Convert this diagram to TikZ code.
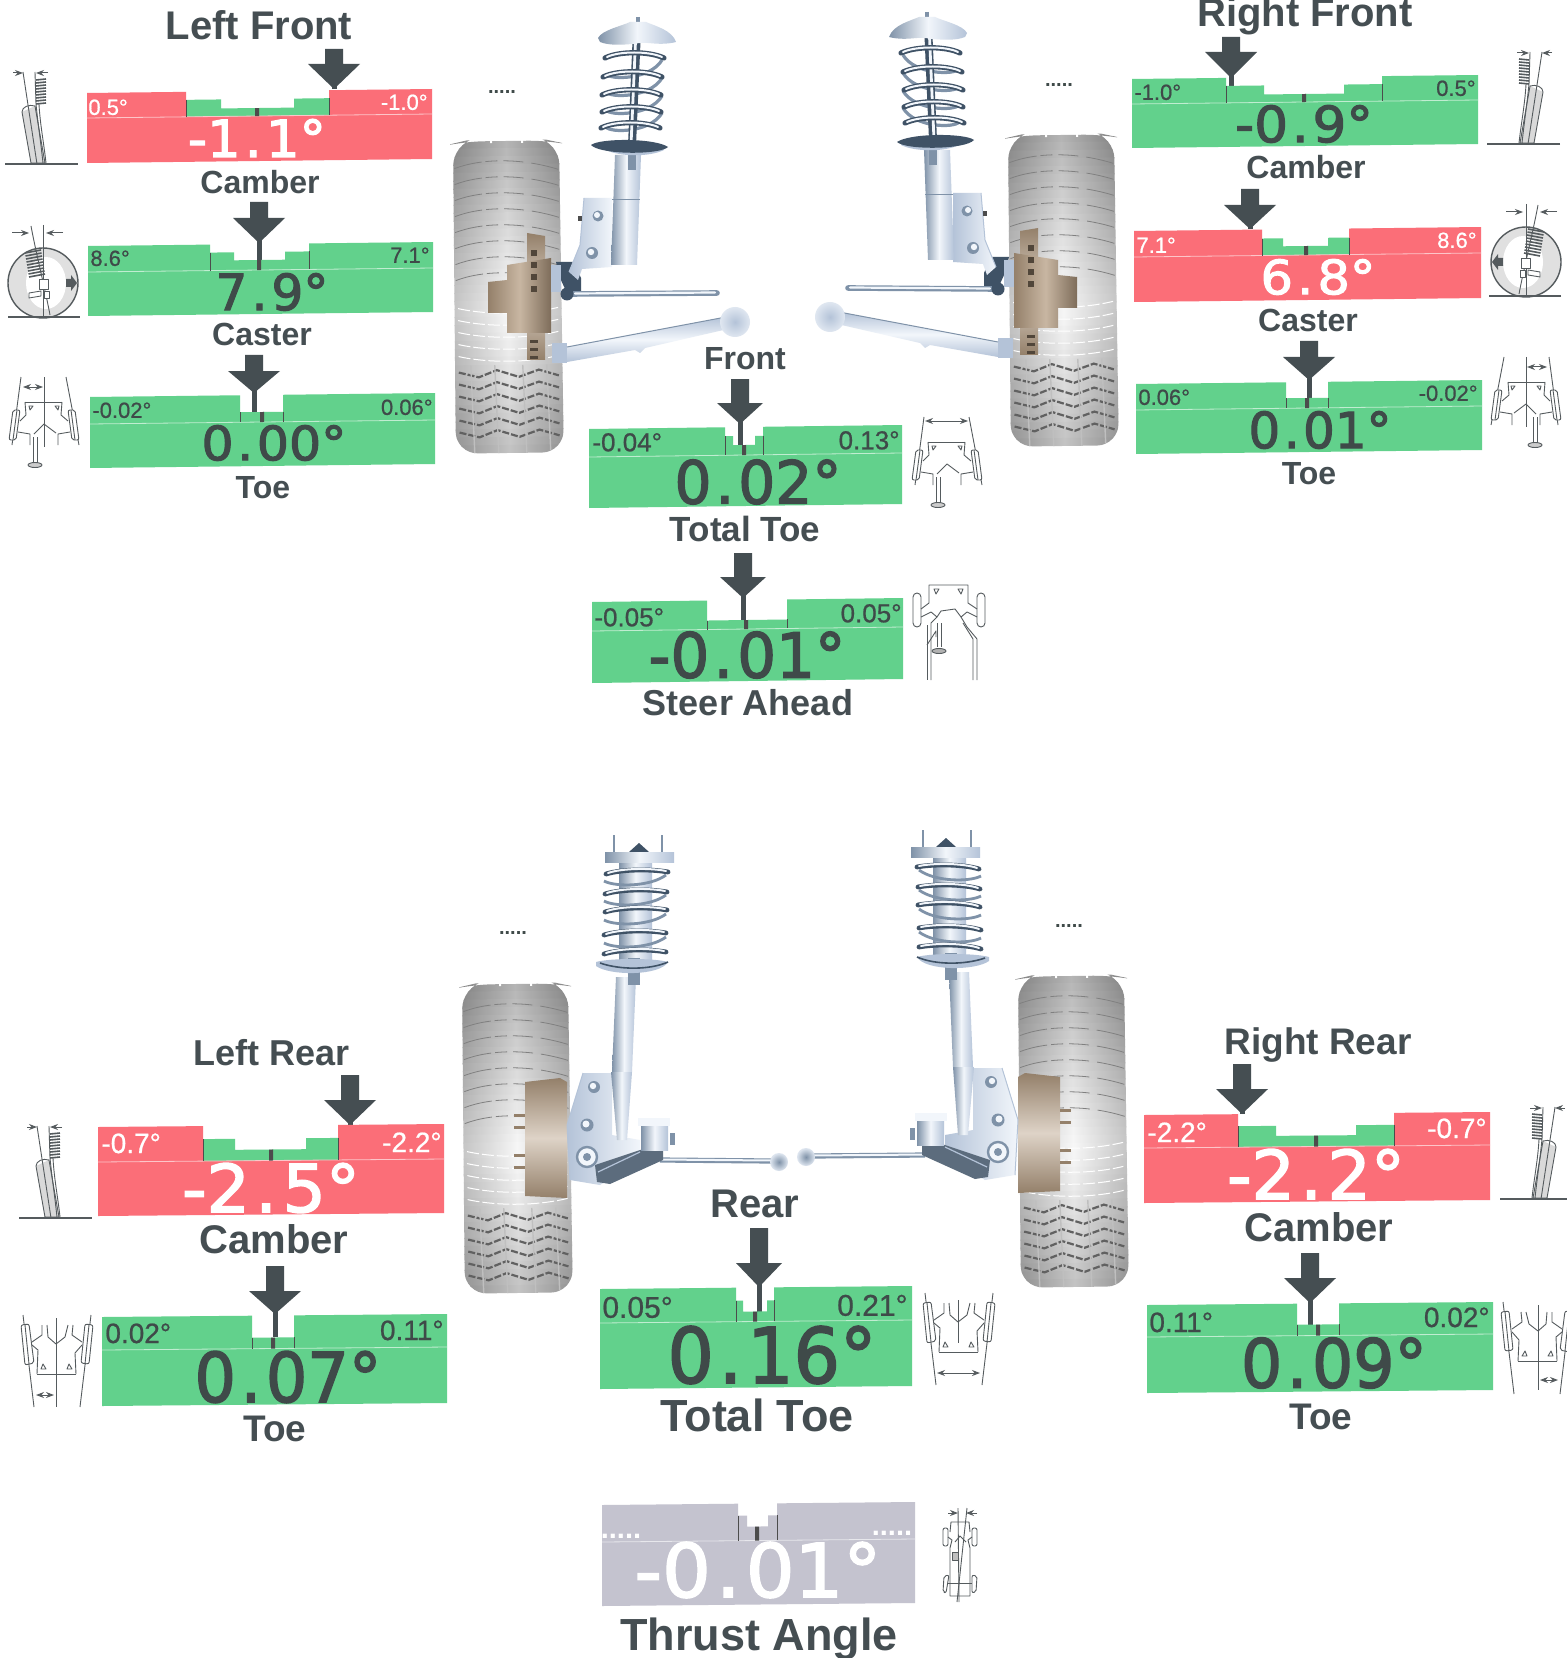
\documentclass[tikz,border=0pt]{standalone}
\usepackage{fontspec}
\usepackage{graphicx}
\usetikzlibrary{arrows.meta}
\setmainfont{Liberation Sans}
\newfontfamily\valfont[FakeBold=2.2]{DejaVu Sans}
\newfontfamily\limfont[FakeBold=.7]{Liberation Sans}
\definecolor{gbody}{HTML}{62D18C}
\definecolor{rbody}{HTML}{FB6E78}
\definecolor{ybody}{HTML}{C4C3CF}
\definecolor{ink}{HTML}{454E52}
\definecolor{valink}{HTML}{3F4A49}
\definecolor{tanA}{HTML}{94806A}
\definecolor{tanB}{HTML}{C8B6A2}
\definecolor{steelA}{HTML}{7F92A8}
\definecolor{steelB}{HTML}{F2F6FB}
\definecolor{steelC}{HTML}{B4C3D8}
\definecolor{steelD}{HTML}{3F5266}
\definecolor{icon}{HTML}{555B5E}
\tikzset{
  lab/.style={inner sep=0pt,text=ink},
  metal/.style={left color=steelA,right color=steelC,middle color=steelB},
  tanh/.style={left color=tanA,right color=tanA!85!black,middle color=tanB},
  tanv/.style={top color=tanA,bottom color=tanA,middle color=tanB!60!white},
  icn/.style={draw=icon,line width=.45pt,line join=round},
  dimarrow/.style={icon,line width=.5pt,-{Stealth[length=4pt,width=3pt]}},
  dbl/.style={icon,line width=.5pt,{Stealth[length=4pt,width=3pt]}-{Stealth[length=4pt,width=3pt]}},
}
% ---------- text ----------
\newcommand\lab[5]{\pgfmathsetmacro\fpt{#4/2}\pgfmathsetmacro\by{#3+.358*#4}%
  \node[lab,anchor=base] (#1) at (#2,\by) {\fontsize{\fpt}{\fpt}\selectfont\bfseries #5};}
\newcommand\lmt[7]{\pgfmathsetmacro\fpt{#4/2}\pgfmathsetmacro\by{#3+.358*#4}%
  \node[lab,anchor=#5,text=#6] (#1) at (#2,\by) {\limfont\fontsize{\fpt}{\fpt}\selectfont #7};}
\newcommand\valn[7]{\node[inner sep=0pt,text=#6] (#1) at (#2,#3) {\resizebox{\dimexpr 0.5pt*#4\relax}{\dimexpr 0.5pt*#5\relax}{\valfont #7}};}
\newcommand\dotsnode[5]{\node[lab,anchor=base,text=#4] (#1) at (#2,#3) {\fontsize{10}{10}\selectfont\bfseries #5};}
% ---------- gauge ----------
\def\gaugeA#1#2#3#4#5#6#7#8#9{\def\gX{#1}\def\gY{#2}\def\gW{#3}\def\gH{#4}\def\gT{#5}\def\gL{#6}\def\gA{#7}\def\gB{#8}\def\gS{#9}\gaugeB}
\def\gaugeB#1#2#3#4#5{% a f C body step
  \pgfmathsetmacro\gt{\gT/\gW}%
  \pgfmathsetmacro\gAa{\gA+#1}\pgfmathsetmacro\gBa{\gB-#1}%
  \begin{scope}[cm={1,\gt,0,1,(\gX,\gY)}]
    \fill[#4] (0,0) -- (\gA,0) -- (\gA,\gL) -- (\gB,\gL) -- (\gB,0) -- (\gW,0) -- (\gW,\gH) -- (0,\gH) -- cycle;
    \fill[#5] (\gA,\gL) -- (\gA,\gS) -- (\gAa,\gS) -- (\gAa,#2) -- (\gBa,#2) -- (\gBa,\gS) -- (\gB,\gS) -- (\gB,\gL) -- cycle;
    \draw[#4!40!white,line width=.4pt] (0,\gL) -- (\gW,\gL);
    \draw[black!70,line width=.5pt] (\gA,\gS) -- (\gA,\gL) (\gB,\gS) -- (\gB,\gL);
    \fill[black!70] (#3-2,#2) rectangle (#3+2,\gL);
  \end{scope}}
% ---------- pointer ----------
\newcommand\ptr[6]{% cx top head tip stemend hw
  \pgfmathsetmacro\xa{#1-#6}\pgfmathsetmacro\xb{#1+#6}%
  \pgfmathsetmacro\sa{#1-9}\pgfmathsetmacro\sb{#1+9}%
  \fill[ink] (\sa,#2) -- (\sb,#2) -- (\sb,#3) -- (\xb,#3) -- (#1,#4) -- (\xa,#3) -- (\sa,#3) -- cycle;
  \pgfmathsetmacro\ta{#1-2.5}\pgfmathsetmacro\tb{#1+2.5}\pgfmathsetmacro\tc{#4-10}%
  \fill[ink] (\ta,\tc) rectangle (\tb,#5);}
% ---------- icons ----------
\newcommand\camberIcon{%
  \fill[black!15] (17,-52) -- (30,-58) -- (40,-1) -- (26,-1) -- cycle;
  \draw[icn] (17,-52) .. controls (17,-57) and (24,-60) .. (30,-58) -- (40,-1) -- (26,-1) -- cycle;
  \draw[icn] (18,-92) -- (32,0);
  \draw[icn] (30,-92) -- (31,-60) .. controls (33,-40) and (36,-20) .. (38,-1);
  \draw[icn] (34,-60) .. controls (35,-40) and (39,-20) .. (41,-1);
  \foreach \yy in {-84,-81,...,-60}{\draw[icn,line width=.8pt] (31,\yy) -- (41,\yy-1);}
  \draw[icn,line width=.7pt] (0,0) -- (73,0);
  \draw[dimarrow] (8,-91) -- (18,-91);
  \draw[dimarrow] (43,-91) -- (31,-91);}
\newcommand\casterIcon{%
  \draw[icn,fill=black!12,line width=.7pt] (0,0) circle (35);
  \fill[white] (3,0) ellipse (20 and 26);
  \draw[icn] (0,-58) -- (0,34);
  \draw[icn] (-12,-57) .. controls (-7,-30) and (3,10) .. (7,32);
  \foreach \yy in {-30,-27,...,-6}{\draw[icn,line width=.8pt] (-13+\yy/6,\yy) -- (3+\yy/6,\yy-3);}
  \draw[icn,fill=white] (-4,-4) rectangle (5,6);
  \draw[icn,fill=white] (-14,10) -- (-2,8) -- (-2,13) -- (-14,15) -- cycle;
  \draw[icn,fill=white] (1,8) rectangle (6,15);
  \fill[icon] (23,-4) -- (28,-4) -- (28,-8) -- (34,0) -- (28,8) -- (28,4) -- (23,4) -- cycle;
  \draw[icn,line width=.7pt] (-35,34) -- (37,34);
  \draw[dimarrow] (-31,-50) -- (-14,-50);
  \draw[dimarrow] (20,-50) -- (3,-50);}
\newcommand\wheelrect[4]{\draw[icn,fill=white,rounded corners=1pt] (#1) -- (#2) -- (#3) -- (#4) -- cycle;}
\newcommand\toeFront{%
  \draw[icn] (-23,0) -- (-32,68);
  \draw[icn] (22,0) -- (35,68);
  \wheelrect{-31,33}{-24,33}{-28,63}{-35,63}
  \draw[icn] (-27,33) -- (-31,63);
  \wheelrect{24,33}{31,33}{35,63}{28,63}
  \draw[icn] (27,33) -- (31,63);
  \draw[icn] (-19,25) -- (18,25);
  \draw[icn] (-19,25) -- (-18,38) -- (-24,44);
  \draw[icn] (18,25) -- (17,38) -- (24,44);
  \draw[icn] (-15,29) -- (-11,29) -- (-14,33) -- cycle;
  \draw[icn] (15,29) -- (11,29) -- (14,33) -- cycle;
  \draw[icn] (-26,55) -- (-14,57) -- (-14,68);
  \draw[icn] (26,55) -- (14,57) -- (14,68);
  \draw[icn] (-10,57) -- (0,47) -- (12,56);
  \draw[icn] (-11,60) -- (-11,82) (-7,60) -- (-7,82);
  \draw[icn,fill=black!20] (-9,88) ellipse (7 and 2.5);
  \draw[icn] (-11,82) -- (-11,86) (-7,82) -- (-7,86);}
\newcommand\toeRear{%
  \draw[icn] (-33,0) -- (-22,92);
  \draw[icn] (35,0) -- (24,92);
  \wheelrect{-35,10}{-27,9}{-22,48}{-31,50}
  \draw[icn] (-31,10) -- (-27,49);
  \wheelrect{29,9}{37,10}{33,49}{25,48}
  \draw[icn] (33,10) -- (29,49);
  \draw[icn] (-19,59) -- (20,59);
  \draw[icn] (-19,59) -- (-18,35) -- (-24,30);
  \draw[icn] (20,59) -- (19,38) -- (26,30);
  \draw[icn] (-13,49) -- (-10,54) -- (-15,54) -- cycle;
  \draw[icn] (13,49) -- (16,54) -- (11,54) -- cycle;
  \draw[icn] (-14,10) -- (-14,20) -- (-24,27);
  \draw[icn] (-9,10) -- (-8,22) -- (0,29) -- (9,22) -- (12,10);
  \draw[icn] (17,10) -- (16,20) -- (26,27);}
\newcommand\steerIcon{%
  \draw[icn,rounded corners=2pt] (-36,8) rectangle (-28,42);
  \draw[icn,rounded corners=2pt] (28,8) rectangle (36,42);
  \draw[icn] (-20,18) -- (-20,0) -- (19,0) -- (19,18) -- (28,24);
  \draw[icn] (-20,18) -- (-28,24);
  \draw[icn] (-28,32) -- (-18,27) -- (-12,32) -- (-18,38) -- (-18,95);
  \draw[icn] (28,32) -- (18,27) -- (12,32) -- (18,42) -- (28,54) -- (28,95);
  \draw[icn] (14,38) -- (24,54) -- (24,95);
  \draw[icn] (-12,32) -- (-8,26) -- (6,24) -- (12,32);
  \draw[icn] (-22,40) -- (-22,95);
  \draw[icn] (-15,4) -- (-10,4) -- (-13,9) -- cycle;
  \draw[icn] (14,4) -- (9,4) -- (12,9) -- cycle;
  \draw[icn] (-22,60) -- (-13,46) -- (-13,52);
  \draw[icn] (-12,38) -- (-12,62) (-8,38) -- (-8,62);
  \draw[icn,fill=black!30] (-10,66) ellipse (7 and 2.5);}
\newcommand\thrustIcon{%
  \draw[icn] (958,1508) -- (959,1602);
  \draw[icn] (967,1508) -- (957,1602);
  \draw[dimarrow] (948,1513) -- (958,1513);
  \draw[dimarrow] (977,1513) -- (966,1513);
  \draw[icn,rounded corners=1pt] (943,1528) rectangle (948,1546);
  \draw[icn,rounded corners=1pt] (972,1528) rectangle (977,1546);
  \draw[icn,rounded corners=1pt] (944,1576) -- (949,1575) -- (946,1593) -- (943,1592) -- cycle;
  \draw[icn,rounded corners=1pt] (972,1575) -- (977,1576) -- (976,1592) -- (972,1593) -- cycle;
  \draw[icn] (950,1532) -- (951,1522) -- (969,1522) -- (970,1532);
  \draw[icn] (948,1537) -- (952,1540) -- (950,1548) -- (950,1596) -- (970,1596) -- (970,1548) -- (968,1540) -- (972,1537);
  \draw[icn] (948,1583) -- (972,1583);
  \draw[icn] (955,1542) -- (960,1536) -- (966,1542);
  \draw[icn,fill=black!25] (952,1552) rectangle (958,1560);}
% ---------- tyre ----------
\newcommand\tyre[3]{%
  \begin{scope}[shift={(#1,#2)},rotate=.7]
    \begin{scope}
      \clip[rounded corners=11pt] (-53,3) -- (-44,1) -- (44,1) -- (53,3) -- (54,#3) -- (-54,#3) -- cycle;
      \foreach \i in {0,...,38}{%
        \pgfmathsetmacro\tt{\i/38}%
        \pgfmathsetmacro\cc{3+26*abs((\tt-.55)/.55)^1.2}%
        \pgfmathsetmacro\ee{min(\cc+20,50)}%
        \pgfmathsetmacro\ya{\i*#3/39}%
        \pgfmathsetmacro\yb{\ya+#3/39+1}%
        \shade[left color=black!\ee,right color=black!\ee,middle color=black!\cc] (-56,\ya) rectangle (56,\yb);}
      \foreach \yy in {22,38,...,134}{%
        \draw[black!50,line width=.4pt,dash pattern=on 14pt off 2pt on 6pt off 3pt on 10pt off 4pt] (-52,\yy+6) .. controls (-25,\yy-4) and (15,\yy-4) .. (52,\yy+8);}
      \foreach \yy in {168,180,...,220}{%
        \draw[white,line width=.5pt,dash pattern=on 6pt off 1.5pt] (-50,\yy) .. controls (-20,\yy+7) and (20,\yy+7) .. (50,\yy);}
      \foreach \yy in {232,244,...,296}{%
        \draw[black!62,line width=1.1pt,dash pattern=on 3.5pt off 1pt] (-50,\yy) -- (-30,\yy+5) -- (-12,\yy-2) -- (10,\yy+5) -- (30,\yy-2) -- (50,\yy+4);}
      \foreach \xx in {-38,-14,14,38}{\draw[white!75!black,line width=.7pt] (\xx,225) -- (\xx+3,#3);}
    \end{scope}
    \fill[white] (-16,0) rectangle (-14,3) (15,0) rectangle (17,3);
  \end{scope}}
% ---------- front assembly (left form) ----------
\newcommand\frontAssy{%
  % disc and hub
  \shade[tanv] (527,233) -- (545,236) -- (545,360) -- (527,360) -- cycle;
  \shade[tanh] (551,258) -- (507,265) -- (507,280) -- (488,282) -- (488,313) -- (507,313) -- (507,333) -- (551,333) -- cycle;
  \foreach \yy in {250,262,...,286}{\fill[tanA!55!black] (531,\yy) rectangle (537,\yy+6);}
  \foreach \yy in {340,348,356}{\fill[tanA!55!black] (530,\yy) rectangle (538,\yy+3);}
  % lower arm
  \fill[steelC] (552,343) rectangle (567,363);
  \shade[top color=steelC,bottom color=steelC,middle color=steelB] (567,347) -- (726,317) -- (728,329) -- (645,348) -- (640,353) -- (635,350) -- (567,362) -- cycle;
  \draw[steelA,line width=.5pt] (567,347) -- (726,317);
  \shade[inner color=steelC,outer color=steelB!70!steelC] (735,322) circle (15);
  % tie rod
  \draw[steelA,line width=2.8pt,line cap=round] (570,294) -- (717,293);
  \draw[steelB,line width=1.1pt,line cap=round] (575,293.5) -- (715,292.5);
  \fill[steelD] (567,294) circle (6.5);
  % knuckle
  \fill[steelD] (556,262) -- (574,262) -- (581,278) -- (581,291) -- (566,291) -- (560,278) -- cycle;
  \fill[steelC] (551,265) rectangle (561,292);
  % bracket
  \shade[left color=steelC,right color=steelB] (584,198) -- (612,198) -- (612,267) -- (582,269) -- (578,280) -- (569,272) -- (580,245) -- cycle;
  \draw[steelC,line width=.5pt] (584,198) -- (580,245) -- (569,272);
  \fill[steelA] (598,216) circle (5.5);\fill[steelB] (597,215) circle (3);
  \fill[steelA] (592,253) circle (6);\fill[steelB] (591,252) circle (3.2);
  \fill[black!70] (578,216) rectangle (582,221);
  % strut
  \shade[metal] (615,155) -- (641,155) -- (637,265) -- (611,265) -- cycle;
  \fill[steelA] (628,155) rectangle (636,170);
  \draw[steelA,line width=.5pt] (612,200) -- (640,200);
  % back coils
  \foreach \yy in {70,88,106,123}{\draw[steelA,line width=1.6pt] (662,\yy-10) .. controls (650,\yy+10) and (610,\yy+10) .. (606,\yy+4);}
  % rod
  \draw[steelD,line width=4pt] (637,30) -- (632,145);
  \draw[steelB,line width=1.4pt] (636,30) -- (631,145);
  \draw[steelA,line width=2.4pt] (638,17) -- (638,28);
  % top mount
  \shade[metal] (598,38) .. controls (602,30) and (622,26) .. (630,22) -- (646,22) .. controls (655,26) and (672,30) .. (676,42) .. controls (660,46) and (650,42) .. (640,43) .. controls (625,45) and (610,46) .. (600,42) -- cycle;
  % front coils
  \foreach \yy/\dx in {58/-1,77/-3,95/-4,112/-4,128/-5}{%
    \draw[steelD,line width=2.6pt,line cap=round] (606+\dx,\yy) .. controls (620+\dx,\yy-7) and (650+\dx,\yy-7) .. (665+\dx,\yy);
    \draw[steelB,line width=1pt,line cap=round] (608+\dx,\yy-1) .. controls (620+\dx,\yy-7) and (650+\dx,\yy-7) .. (663+\dx,\yy-1);}
  % lower seat
  \fill[steelC] (606,150) .. controls (620,157) and (650,157) .. (664,150) -- (664,146) -- (606,146) -- cycle;
  \fill[steelD] (591,145) .. controls (600,138) and (655,138) .. (668,147) .. controls (660,155) and (600,155) .. (591,145) -- cycle;
}
% ---------- rear assembly (left form) ----------
\newcommand\rearAssy{%
  % drum
  \shade[tanv] (525,1082) -- (560,1078) -- (567,1082) -- (567,1198) -- (525,1196) -- cycle;
  \foreach \yy in {1115,1127,1155,1167}{\fill[tanA] (514,\yy-1.5) rectangle (525,\yy+1.5);}
  % bracket
  \shade[left color=steelC,right color=steelB] (583,1073) -- (612,1073) -- (612,1135) -- (640,1140) -- (640,1160) -- (600,1185) -- (570,1180) -- (567,1125) -- cycle;
  \draw[steelC,line width=.5pt] (583,1073) -- (567,1125) -- (570,1180);
  \fill[steelA] (594,1087) circle (6);\fill[steelB] (593,1086) circle (3.2);
  \fill[steelA] (587,1125) circle (6.5);\fill[steelB] (586,1124) circle (3.5);
  % tie rod
  \draw[steelA,line width=2.6pt] (660,1160) -- (772,1161);
  \draw[steelB,line width=1pt] (660,1159.5) -- (772,1160.5);
  \shade[inner color=steelA,outer color=steelB!70!steelC] (779,1162) circle (9);
  % arm
  \fill[steelD!85!white] (597,1182) -- (610,1184) -- (663,1160) -- (663,1148) -- (640,1150) -- (595,1165) -- cycle;
  \draw[steelC,line width=.6pt] (598,1172) -- (640,1152);
  % bushing
  \fill[steelB] (638,1118) rectangle (670,1126);
  \shade[metal] (641,1126) rectangle (668,1150);
  \fill[steelA] (670,1133) rectangle (675,1145);
  % ring
  \draw[steelA,fill=steelB,line width=1.2pt] (587,1157) circle (10);
  \fill[steelA] (587,1157) circle (4);
  % strut
  \shade[metal] (616,977) -- (636,977) -- (632,1072) -- (612,1072) -- cycle;
  \shade[metal] (611,1072) -- (632,1072) -- (627,1140) -- (617,1140) -- cycle;
  % damper
  \shade[metal] (619,860) rectangle (652,960);
  \fill[steelA] (628,958) rectangle (640,985);
  % coils
  \foreach \yy in {883,903,922,945}{\draw[steelA,line width=1.4pt] (666,\yy-8) .. controls (650,\yy+4) and (615,\yy+4) .. (604,\yy-2);}
  \foreach \yy/\dx in {872/2,892/1,910/1,933/0,952/0}{%
    \draw[steelD,line width=2.4pt,line cap=round] (604+\dx,\yy+2) .. controls (620+\dx,\yy-3) and (650+\dx,\yy-3) .. (666+\dx,\yy);
    \draw[steelB,line width=1pt,line cap=round] (606+\dx,\yy+1) .. controls (620+\dx,\yy-4) and (650+\dx,\yy-4) .. (664+\dx,\yy-1);}
  % lower seat
  \fill[steelC] (596,962) .. controls (610,958) and (655,958) .. (668,962) .. controls (660,976) and (610,976) .. (596,966) -- cycle;
  \draw[steelD,line width=.8pt] (600,963) .. controls (620,970) and (650,970) .. (668,962);
  % top
  \draw[steelA,line width=.9pt] (614,835) -- (614,853) (662,835) -- (662,853);
  \fill[steelD] (639,843) -- (649,852) -- (629,852) -- cycle;
  \shade[metal] (605,852) rectangle (674,862);
}
\begin{document}
\begin{tikzpicture}[x=.5pt,y=-.5pt]
\useasboundingbox (0,0) rectangle (1567,1658);
\fill[white] (0,0) rectangle (1567,1658);
% wheels and suspension
\tyre{506}{140}{313}
\frontAssy
\tyre{1061}{134}{312}
\begin{scope}[shift={(1565,-5)},xscale=-1]\frontAssy\end{scope}
\tyre{515}{983}{310}
\rearAssy
\tyre{1071}{975}{312}
\begin{scope}[shift={(1585,-5)},xscale=-1]\rearAssy\end{scope}
% Left front
\lab{lfT}{259}{25}{40}{Left Front}
\ptr{334}{49}{64}{89}{89}{26}
\gaugeA{87}{93}{345}{70}{4}{25}{99}{242}{8}{35}{17}{170}{rbody}{gbody}
\valn{lfcV}{257}{138}{138}{38}{white}{-1\kern.08em.\kern.08em 1°}
\lmt{lfcL}{88}{107}{22}{base west}{white}{0.5°}
\lmt{lfcR}{428}{102}{22}{base east}{white}{-1.0°}
\lab{lfcN}{260}{182}{32}{Camber}
\ptr{259}{202}{218}{243}{262}{26}
\gaugeA{88}{246}{345}{70}{4}{26}{122}{221}{8}{24}{16}{171}{gbody}{gbody}
\valn{lfaV}{272}{292}{113}{37}{valink}{7\kern.08em.\kern.08em 9°}
\lmt{lfaL}{90}{258}{22}{base west}{valink}{8.6°}
\lmt{lfaR}{430}{255}{22}{base east}{valink}{7.1°}
\lab{lfaN}{262}{334}{32}{Caster}
\ptr{254}{355}{371}{393}{413}{26}
\gaugeA{90}{397}{345}{71}{4}{27}{150}{193}{17}{0}{17}{172}{gbody}{gbody}
\valn{lftV}{274}{443}{145}{35}{valink}{0\kern.07em.\kern.07em 00°}
\lmt{lftL}{92}{410}{22}{base west}{valink}{-0.02°}
\lmt{lftR}{433}{407}{22}{base east}{valink}{0.06°}
\lab{lftN}{263}{487}{32}{Toe}
\begin{scope}[shift={(5,164)}]\camberIcon\end{scope}
\begin{scope}[shift={(43,283)}]\casterIcon\end{scope}
\begin{scope}[shift={(44,377)}]\toeFront\draw[icn] (0,0) -- (0,70);\draw[dbl] (-21,10) -- (-1,10);\end{scope}
% Right front
\lab{rfT}{1305}{12}{40}{Right Front}
\ptr{1231}{37}{52}{78}{86}{26}
\gaugeA{1132}{79}{346}{69}{4}{25}{94}{250}{8}{38}{17}{172}{gbody}{gbody}
\valn{rfcV}{1304}{124}{138}{37}{valink}{-0\kern.07em.\kern.07em 9°}
\lmt{rfcL}{1134}{92}{22}{base west}{valink}{-1.0°}
\lmt{rfcR}{1476}{88}{22}{base east}{valink}{0.5°}
\lab{rfcN}{1306}{167}{32}{Camber}
\ptr{1250}{189}{205}{229}{229}{26}
\gaugeA{1134}{231}{347}{71}{4}{26}{128}{215}{9}{21}{17}{172}{rbody}{gbody}
\valn{rfaV}{1318}{277}{115}{35}{white}{6\kern.08em.\kern.08em 8°}
\lmt{rfaL}{1136}{245}{22}{base west}{white}{7.1°}
\lmt{rfaR}{1477}{240}{22}{base east}{white}{8.6°}
\lab{rfaN}{1308}{320}{32}{Caster}
\ptr{1309}{341}{357}{380}{399}{26}
\gaugeA{1136}{384}{346}{70}{4}{26}{150}{192}{16}{0}{16}{171}{gbody}{gbody}
\valn{rftV}{1320}{430}{143}{37}{valink}{0\kern.07em.\kern.07em 01°}
\lmt{rftL}{1138}{397}{22}{base west}{valink}{0.06°}
\lmt{rftR}{1478}{393}{22}{base east}{valink}{-0.02°}
\lab{rftN}{1309}{473}{32}{Toe}
\begin{scope}[shift={(1560,144)},xscale=-1]\camberIcon\end{scope}
\begin{scope}[shift={(1526,262)},xscale=-1]\casterIcon\end{scope}
\begin{scope}[shift={(1526,357)},xscale=-1]\toeFront\draw[icn] (0,0) -- (0,70);\draw[dbl] (-21,10) -- (-1,10);\end{scope}
% Front centre
\lab{fT}{745}{358}{32}{Front}
\ptr{740}{379}{403}{424}{445}{23}
\gaugeA{589}{429}{313}{79}{4}{28}{136}{174}{9}{8}{18}{155}{gbody}{gbody}
\valn{fV}{758}{482}{167}{44}{valink}{0\kern.07em.\kern.07em 02°}
\lmt{fL}{592}{442}{26}{base west}{valink}{-0.04°}
\lmt{fR}{900}{440}{26}{base east}{valink}{0.13°}
\lab{fN}{745}{529}{35}{Total Toe}
\begin{scope}[shift={(947,417)}]\toeFront\draw[dbl] (-22,4) -- (21,4);\end{scope}
\ptr{743}{553}{577}{598}{620}{23}
\gaugeA{592}{602}{311}{81}{4}{29}{115}{195}{20}{0}{20}{154}{gbody}{gbody}
\valn{sV}{747}{655}{197}{46}{valink}{-0\kern.07em.\kern.07em 01°}
\lmt{sL}{594}{617}{26}{base west}{valink}{-0.05°}
\lmt{sR}{902}{613}{26}{base east}{valink}{0.05°}
\lab{sN}{748}{703}{36}{Steer Ahead}
\begin{scope}[shift={(949,585)}]\steerIcon\end{scope}
% dots
\dotsnode{d1}{502}{94}{valink}{.....}
\dotsnode{d2}{1059}{87}{valink}{.....}
\dotsnode{d3}{513}{934}{valink}{.....}
\dotsnode{d4}{1069}{927}{valink}{.....}
% Left rear
\lab{lrT}{272}{1053}{36}{Left Rear}
\ptr{350}{1075}{1100}{1125}{1125}{26}
\gaugeA{98}{1127}{346}{89}{3}{35}{105}{240}{13}{32}{24}{173}{rbody}{gbody}
\valn{lrcV}{271}{1188}{178}{49}{white}{-2\kern.08em.\kern.08em 5°}
\lmt{lrcL}{101}{1143}{28}{base west}{white}{-0.7°}
\lmt{lrcR}{442}{1142}{28}{base east}{white}{-2.2°}
\lab{lrcN}{274}{1239}{40}{Camber}
\ptr{275}{1266}{1291}{1314}{1337}{26}
\gaugeA{102}{1317}{345}{89}{3}{33}{150}{192}{22}{0}{22}{171}{gbody}{gbody}
\valn{lrtV}{288}{1377}{187}{51}{valink}{0\kern.07em.\kern.07em 07°}
\lmt{lrtL}{105}{1333}{28}{base west}{valink}{0.02°}
\lmt{lrtR}{444}{1330}{28}{base east}{valink}{0.11°}
\lab{lrtN}{275}{1428}{37}{Toe}
\begin{scope}[shift={(19,1218)}]\camberIcon\end{scope}
\begin{scope}[shift={(56,1315)}]\toeRear\draw[icn] (0,3) -- (0,92);\draw[dbl] (-20,80) -- (-2,80);\end{scope}
% Right rear
\lab{rrT}{1318}{1041}{37}{Right Rear}
\ptr{1242}{1064}{1089}{1114}{1114}{26}
\gaugeA{1144}{1115}{346}{88}{3}{33}{94}{250}{12}{38}{22}{172}{rbody}{gbody}
\valn{rrcV}{1316}{1174}{178}{50}{white}{-2\kern.08em.\kern.08em 2°}
\lmt{rrcL}{1147}{1132}{28}{base west}{white}{-2.2°}
\lmt{rrcR}{1487}{1128}{28}{base east}{white}{-0.7°}
\lab{rrcN}{1319}{1227}{40}{Camber}
\ptr{1310}{1253}{1278}{1303}{1325}{26}
\gaugeA{1147}{1305}{346}{88}{3}{32}{150}{192}{21}{0}{21}{171}{gbody}{gbody}
\valn{rrtV}{1334}{1363}{186}{50}{valink}{0\kern.07em.\kern.07em 09°}
\lmt{rrtL}{1149}{1322}{28}{base west}{valink}{0.11°}
\lmt{rrtR}{1490}{1317}{28}{base east}{valink}{0.02°}
\lab{rrtN}{1321}{1416}{37}{Toe}
\begin{scope}[shift={(1573,1199)},xscale=-1]\camberIcon\end{scope}
\begin{scope}[shift={(1538,1302)},xscale=-1]\toeRear\draw[icn] (0,3) -- (0,88);\draw[dbl] (-20,78) -- (-2,78);\end{scope}
% Rear centre
\lab{rT}{755}{1203}{40}{Rear}
\ptr{759}{1228}{1263}{1287}{1312}{23}
\gaugeA{600}{1289}{312}{100}{3}{34}{136}{174}{13}{7}{24}{155}{gbody}{gbody}
\valn{rV}{772}{1355}{209}{57}{valink}{0\kern.07em.\kern.07em 16°}
\lmt{rL}{602}{1307}{30}{base west}{valink}{0.05°}
\lmt{rR}{908}{1305}{30}{base east}{valink}{0.21°}
\lab{rN}{757}{1415}{45}{Total Toe}
\begin{scope}[shift={(958,1293)}]\toeRear\draw[icn] (0,7) -- (0,50);\draw[dbl] (-21,80) -- (22,80);\end{scope}
% Thrust
\gaugeA{602}{1505}{313}{101}{3}{37}{136}{175}{12}{9}{23}{155}{ybody}{ybody}
\valn{tV}{758}{1570}{247}{55}{white}{-0\kern.07em.\kern.07em 01°}
\dotsnode{tL}{621}{1538}{white}{\fontsize{14.5}{14.5}\selectfont .....}
\dotsnode{tR}{892}{1535}{white}{\fontsize{14.5}{14.5}\selectfont .....}
\lab{tN}{759}{1634}{45}{Thrust Angle}
\thrustIcon
\end{tikzpicture}
\end{document}
